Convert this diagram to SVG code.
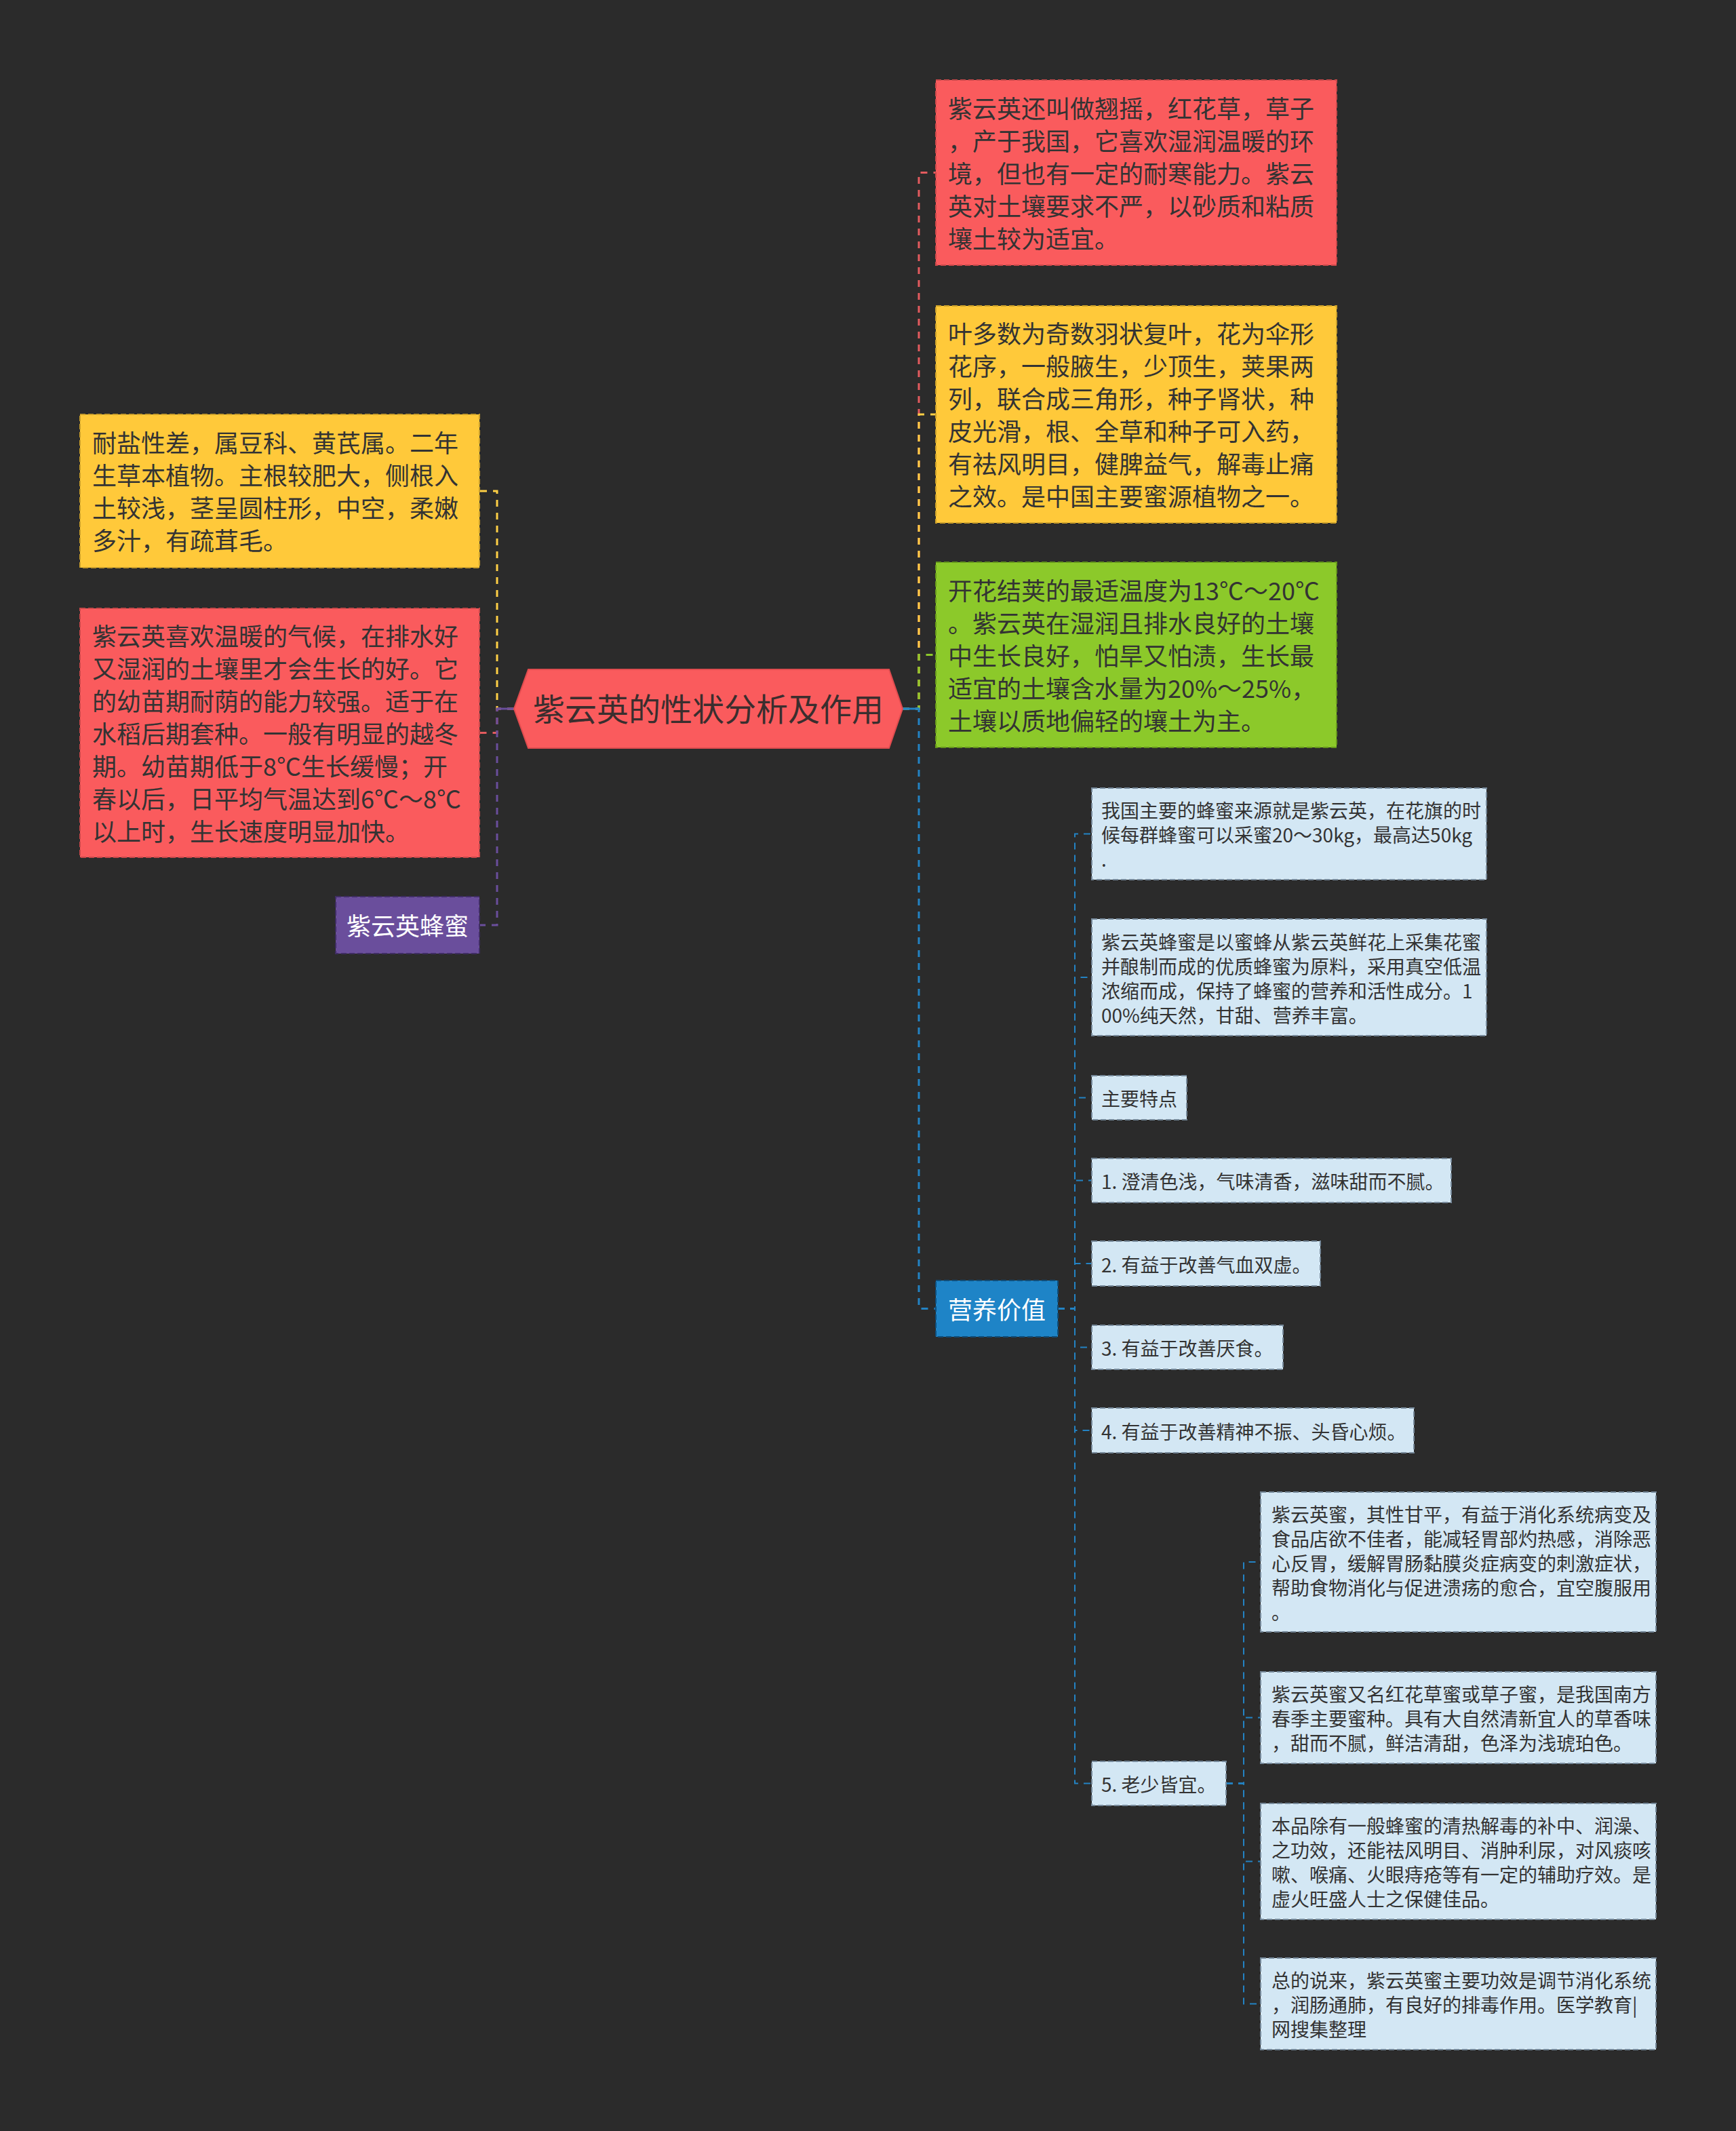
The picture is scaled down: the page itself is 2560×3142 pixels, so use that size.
<svg xmlns="http://www.w3.org/2000/svg" width="2560" height="3142" viewBox="0 0 2560 3142">
<style>
text { font-family: "Noto Sans CJK SC", "Noto Sans", sans-serif; fill: #333333; }
.f36 { font-size: 36px; }
.f28 { font-size: 28px; }
.fc { font-size: 47px; fill: #3a2e2e; }
.wt { fill: #ffffff; }
.box { stroke-width: 2; stroke-dasharray: 8 4; }
.red { fill: #FA5B5D; stroke: #C8484A; }
.yel { fill: #FFC93A; stroke: #C99E2A; }
.grn { fill: #8CC92A; stroke: #66981C; }
.pur { fill: #6A4E9C; stroke: #3F2D63; }
.blu { fill: #1E84C7; stroke: #0F4E7A; }
.lb { fill: #D3E7F4; stroke: #76899A; }
.c { fill: none; stroke-width: 3; stroke-dasharray: 10 9; stroke-linejoin: miter; }
.cs { fill: none; stroke-width: 2; stroke-dasharray: 10 8; stroke: #2383C4; }
</style>
<rect x="0" y="0" width="2560" height="3142" fill="#2b2b2b"/>

<g id="connectors">
  <path class="c" stroke="#E35B5E" d="M1331 1045 H1355 V254.5 H1380"/>
  <path class="c" stroke="#FFCF45" d="M1331 1045 H1355 V611 H1380"/>
  <path class="c" stroke="#8CC92A" d="M1331 1045 H1355 V965.5 H1380"/>
  <path class="c" stroke="#2383C4" d="M1331 1045 H1355 V1929.5 H1380"/>
  <line x1="1331" y1="1045" x2="1355" y2="1045" stroke="#2383C4" stroke-width="3"/>
  <path class="c" stroke="#E35B5E" d="M758 1045 H733 V1080.5 H707"/>
  <path class="c" stroke="#FFCF45" d="M758 1045 H733 V724 H707"/>
  <path class="c" stroke="#6A4E9C" d="M758 1045 H733 V1364 H707"/>
  <line x1="758" y1="1045" x2="733" y2="1045" stroke="#6A4E9C" stroke-width="3"/>
  <path class="cs" d="M1560 1929.5 H1585 V1229.5 H1610"/>
  <path class="cs" d="M1560 1929.5 H1585 V1441 H1610"/>
  <path class="cs" d="M1560 1929.5 H1585 V1618.5 H1610"/>
  <path class="cs" d="M1560 1929.5 H1585 V1740.5 H1610"/>
  <path class="cs" d="M1560 1929.5 H1585 V1863 H1610"/>
  <path class="cs" d="M1560 1929.5 H1585 V1986.5 H1610"/>
  <path class="cs" d="M1560 1929.5 H1585 V2109 H1610"/>
  <path class="cs" d="M1560 1929.5 H1585 V2629.5 H1610"/>
  <path class="cs" d="M1808 2629.5 H1834 V2303 H1859"/>
  <path class="cs" d="M1808 2629.5 H1834 V2532.5 H1859"/>
  <path class="cs" d="M1808 2629.5 H1834 V2744.5 H1859"/>
  <path class="cs" d="M1808 2629.5 H1834 V2954.5 H1859"/>
</g>

<g id="root">
  <polygon points="758,1045 779,987 1311,987 1331,1045 1311,1103 779,1103" fill="#FA5B5D" stroke="#E04C4F" stroke-width="2"/>
  <text class="fc" x="1044.5" y="1063" text-anchor="middle">紫云英的性状分析及作用</text>
</g>

<g id="n-r1">
  <rect class="box red" x="1380" y="118" width="591" height="273"/>
  <text class="f36"><tspan x="1398" y="173.5">紫云英还叫做翘摇，红花草，草子</tspan><tspan x="1398" y="221.5">，产于我国，它喜欢湿润温暖的环</tspan><tspan x="1398" y="269.5">境，但也有一定的耐寒能力。紫云</tspan><tspan x="1398" y="317.5">英对土壤要求不严，以砂质和粘质</tspan><tspan x="1398" y="365.5">壤土较为适宜。</tspan></text>
</g>

<g id="n-y1">
  <rect class="box yel" x="1380" y="451" width="591" height="320"/>
  <text class="f36"><tspan x="1398" y="506">叶多数为奇数羽状复叶，花为伞形</tspan><tspan x="1398" y="554">花序，一般腋生，少顶生，荚果两</tspan><tspan x="1398" y="602">列，联合成三角形，种子肾状，种</tspan><tspan x="1398" y="650">皮光滑，根、全草和种子可入药，</tspan><tspan x="1398" y="698">有祛风明目，健脾益气，解毒止痛</tspan><tspan x="1398" y="746">之效。是中国主要蜜源植物之一。</tspan></text>
</g>

<g id="n-g1">
  <rect class="box grn" x="1380" y="829" width="591" height="273"/>
  <text class="f36"><tspan x="1398" y="884.5">开花结荚的最适温度为13℃～20℃</tspan><tspan x="1398" y="932.5">。紫云英在湿润且排水良好的土壤</tspan><tspan x="1398" y="980.5">中生长良好，怕旱又怕渍，生长最</tspan><tspan x="1398" y="1028.5">适宜的土壤含水量为20%～25%，</tspan><tspan x="1398" y="1076.5">土壤以质地偏轻的壤土为主。</tspan></text>
</g>

<g id="n-ly">
  <rect class="box yel" x="118" y="611" width="589" height="226"/>
  <text class="f36"><tspan x="136" y="667">耐盐性差，属豆科、黄芪属。二年</tspan><tspan x="136" y="715">生草本植物。主根较肥大，侧根入</tspan><tspan x="136" y="763">土较浅，茎呈圆柱形，中空，柔嫩</tspan><tspan x="136" y="811">多汁，有疏茸毛。</tspan></text>
</g>

<g id="n-lr">
  <rect class="box red" x="118" y="897" width="589" height="367"/>
  <text class="f36"><tspan x="136" y="951.5">紫云英喜欢温暖的气候，在排水好</tspan><tspan x="136" y="999.5">又湿润的土壤里才会生长的好。它</tspan><tspan x="136" y="1047.5">的幼苗期耐荫的能力较强。适于在</tspan><tspan x="136" y="1095.5">水稻后期套种。一般有明显的越冬</tspan><tspan x="136" y="1143.5">期。幼苗期低于8℃生长缓慢；开</tspan><tspan x="136" y="1191.5">春以后，日平均气温达到6℃～8℃</tspan><tspan x="136" y="1239.5">以上时，生长速度明显加快。</tspan></text>
</g>

<g id="n-honey">
  <rect class="box pur" x="495" y="1322" width="212" height="84"/>
  <text class="f36 wt" x="601" y="1379" text-anchor="middle">紫云英蜂蜜</text>
</g>

<g id="n-value">
  <rect class="box blu" x="1380" y="1888" width="180" height="83"/>
  <text class="f36 wt" x="1470" y="1944.5" text-anchor="middle">营养价值</text>
</g>

<g id="n-a">
  <rect class="box lb" x="1610" y="1162" width="582" height="135"/>
  <text class="f28"><tspan x="1624" y="1206">我国主要的蜂蜜来源就是紫云英，在花旗的时</tspan><tspan x="1624" y="1242">候每群蜂蜜可以采蜜20～30kg，最高达50kg</tspan><tspan x="1624" y="1278">.</tspan></text>
</g>

<g id="n-b">
  <rect class="box lb" x="1610" y="1355" width="582" height="172"/>
  <text class="f28"><tspan x="1624" y="1399.5">紫云英蜂蜜是以蜜蜂从紫云英鲜花上采集花蜜</tspan><tspan x="1624" y="1435.5">并酿制而成的优质蜂蜜为原料，采用真空低温</tspan><tspan x="1624" y="1471.5">浓缩而成，保持了蜂蜜的营养和活性成分。1</tspan><tspan x="1624" y="1507.5">00%纯天然，甘甜、营养丰富。</tspan></text>
</g>

<g id="n-c">
  <rect class="box lb" x="1610" y="1586" width="140" height="65"/>
  <text class="f28" x="1624" y="1631">主要特点</text>
</g>

<g id="n-d">
  <rect class="box lb" x="1610" y="1708" width="530" height="65"/>
  <text class="f28" x="1624" y="1753">1. 澄清色浅，气味清香，滋味甜而不腻。</text>
</g>

<g id="n-e">
  <rect class="box lb" x="1610" y="1830" width="337" height="66"/>
  <text class="f28" x="1624" y="1875.5">2. 有益于改善气血双虚。</text>
</g>

<g id="n-f">
  <rect class="box lb" x="1610" y="1954" width="282" height="65"/>
  <text class="f28" x="1624" y="1999">3. 有益于改善厌食。</text>
</g>

<g id="n-g">
  <rect class="box lb" x="1610" y="2076" width="475" height="66"/>
  <text class="f28" x="1624" y="2121.5">4. 有益于改善精神不振、头昏心烦。</text>
</g>

<g id="n-h">
  <rect class="box lb" x="1610" y="2597" width="198" height="65"/>
  <text class="f28" x="1624" y="2642">5. 老少皆宜。</text>
</g>

<g id="n-i">
  <rect class="box lb" x="1859" y="2200" width="583" height="206"/>
  <text class="f28"><tspan x="1875" y="2243.5">紫云英蜜，其性甘平，有益于消化系统病变及</tspan><tspan x="1875" y="2279.5">食品店欲不佳者，能减轻胃部灼热感，消除恶</tspan><tspan x="1875" y="2315.5">心反胃，缓解胃肠黏膜炎症病变的刺激症状，</tspan><tspan x="1875" y="2351.5">帮助食物消化与促进溃疡的愈合，宜空腹服用</tspan><tspan x="1875" y="2387.5">。</tspan></text>
</g>

<g id="n-j">
  <rect class="box lb" x="1859" y="2465" width="583" height="135"/>
  <text class="f28"><tspan x="1875" y="2509">紫云英蜜又名红花草蜜或草子蜜，是我国南方</tspan><tspan x="1875" y="2545">春季主要蜜种。具有大自然清新宜人的草香味</tspan><tspan x="1875" y="2581">，甜而不腻，鲜洁清甜，色泽为浅琥珀色。</tspan></text>
</g>

<g id="n-k">
  <rect class="box lb" x="1859" y="2659" width="583" height="171"/>
  <text class="f28"><tspan x="1875" y="2703">本品除有一般蜂蜜的清热解毒的补中、润澡、</tspan><tspan x="1875" y="2739">之功效，还能祛风明目、消肿利尿，对风痰咳</tspan><tspan x="1875" y="2775">嗽、喉痛、火眼痔疮等有一定的辅助疗效。是</tspan><tspan x="1875" y="2811">虚火旺盛人士之保健佳品。</tspan></text>
</g>

<g id="n-l">
  <rect class="box lb" x="1859" y="2887" width="583" height="135"/>
  <text class="f28"><tspan x="1875" y="2931">总的说来，紫云英蜜主要功效是调节消化系统</tspan><tspan x="1875" y="2967">，润肠通肺，有良好的排毒作用。医学教育|</tspan><tspan x="1875" y="3003">网搜集整理</tspan></text>
</g>
</svg>
